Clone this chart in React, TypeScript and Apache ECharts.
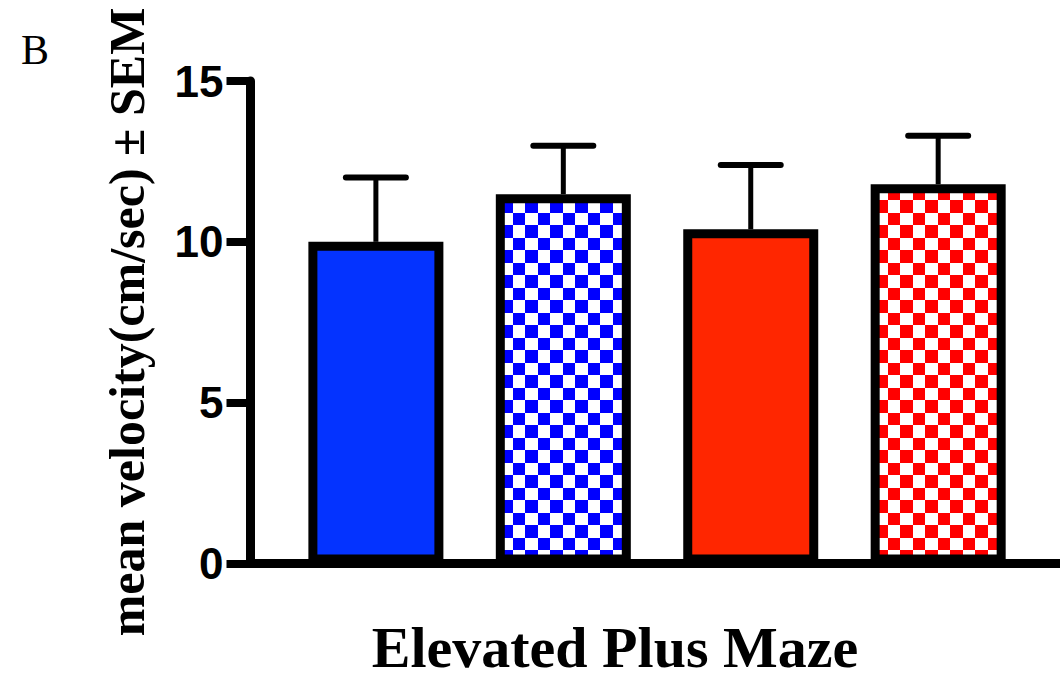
import React, { useEffect, useRef } from 'react';
import * as echarts from 'echarts';

// Group positions along the horizontal value axis
const groupPositions = [0, 1, 2, 3];
// Mean velocity (cm/sec) per group and its standard error
const meanVelocity = [10.0, 11.48, 10.39, 11.79];
const semVelocity = [2.0, 1.51, 2.0, 1.51];

// Y axis scale
const yMin = 0;
const yMax = 15;
const yInterval = 5;

const yAxisTitle = 'mean velocity(cm/sec) ± SEM';
const xAxisTitle = 'Elevated Plus Maze';
const panelLetter = 'B';

// Checkerboard fill made from a tiny SVG tile
function checker(color: string, ox: number, oy: number) {
  const s = 12.5;
  const svg =
    `<svg xmlns="http://www.w3.org/2000/svg" width="25" height="25" shape-rendering="crispEdges">` +
    `<rect width="25" height="25" fill="#ffffff"/>` +
    `<rect x="0" y="0" width="${s}" height="${s}" fill="${color}"/>` +
    `<rect x="${s}" y="${s}" width="${s}" height="${s}" fill="${color}"/>` +
    `</svg>`;
  return {
    type: 'pattern',
    image: 'data:image/svg+xml;charset=utf-8,' + encodeURIComponent(svg),
    repeat: 'repeat',
    imageWidth: 25,
    imageHeight: 25,
    x: ox,
    y: oy,
  };
}

const barFills: any[] = [
  '#0433FF',
  checker('#0000FF', 13.3, 6.7),
  '#FF2600',
  checker('#FF0000', 0.8, 9.2),
];

export default function App() {
  const ref = useRef<HTMLDivElement>(null);

  useEffect(() => {
    if (!ref.current) return;
    const chart = echarts.init(ref.current, null, { renderer: 'svg' });

    const option: any = {
      animation: false,
      backgroundColor: '#ffffff',
      grid: { left: 250.5, right: 0, top: 81, bottom: 111.5 },
      xAxis: {
        type: 'value',
        min: -0.669,
        max: 3.65,
        axisLine: { show: true, lineStyle: { color: '#000', width: 9 } },
        axisTick: { show: false },
        axisLabel: { show: false },
        splitLine: { show: false },
      },
      yAxis: {
        type: 'value',
        min: yMin,
        max: yMax,
        interval: yInterval,
        axisLine: { show: true, onZero: false, lineStyle: { color: '#000', width: 9 } },
        axisTick: { show: true, length: 24, lineStyle: { color: '#000', width: 8 } },
        axisLabel: {
          color: '#000',
          fontSize: 44,
          fontWeight: 'bold',
          fontFamily: 'Liberation Sans, Arial, sans-serif',
          margin: 27,
        },
        splitLine: { show: false },
      },
      series: [
        {
          type: 'custom',
          z: 3,
          data: groupPositions.map((p, i) => [p, meanVelocity[i], semVelocity[i]]),
          encode: { x: 0, y: 1 },
          renderItem: (params: any, api: any) => {
            const x = api.value(0);
            const m = api.value(1);
            const s = api.value(2);
            const base = api.coord([x, m]);
            const top = api.coord([x, m + s]);
            return {
              type: 'group',
              children: [
                {
                  type: 'line',
                  shape: { x1: base[0], y1: base[1], x2: top[0], y2: top[1] },
                  style: { stroke: '#000', lineWidth: 5 },
                },
                {
                  type: 'line',
                  shape: { x1: top[0] - 30, y1: top[1], x2: top[0] + 30, y2: top[1] },
                  style: { stroke: '#000', lineWidth: 6, lineCap: 'round' },
                },
              ],
            };
          },
        },
        {
          type: 'bar',
          z: 4,
          barWidth: 135,
          data: groupPositions.map((p, i) => ({
            value: [p, meanVelocity[i]],
            itemStyle: { color: barFills[i], borderColor: '#000', borderWidth: 9 },
          })),
        },
      ],
      graphic: [
        {
          type: 'text',
          x: 127,
          y: 322,
          rotation: Math.PI / 2,
          style: {
            text: yAxisTitle,
            fill: '#000',
            font: 'bold 50px "Liberation Serif", "Times New Roman", serif',
            textAlign: 'center',
            textVerticalAlign: 'middle',
          },
        },
        {
          type: 'text',
          x: 615,
          y: 647,
          style: {
            text: xAxisTitle,
            fill: '#000',
            font: 'bold 58px "Liberation Serif", "Times New Roman", serif',
            lineHeight: 50,
            textAlign: 'center',
            textVerticalAlign: 'middle',
          },
        },
        {
          type: 'text',
          x: 21,
          y: 50,
          style: {
            text: panelLetter,
            fill: '#000',
            font: '42px "Liberation Serif", "Times New Roman", serif',
            textAlign: 'left',
            textVerticalAlign: 'middle',
          },
        },
      ],
    };

    chart.setOption(option);
    return () => chart.dispose();
  }, []);

  return (
    <div
      ref={ref}
      style={{ position: 'absolute', left: 0, top: 0, width: 1060, height: 675, background: '#fff' }}
    />
  );
}
